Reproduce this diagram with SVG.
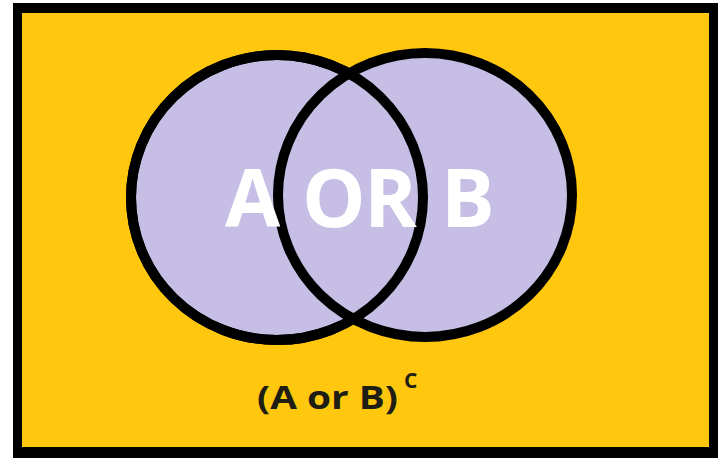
<svg xmlns="http://www.w3.org/2000/svg" width="718" height="458" viewBox="0 0 718 458">
<style>
.ring{fill:#C6BEE5;stroke:#000;stroke-width:10}
.edge{fill:none;stroke:#000;stroke-width:10}
.big{font-family:"Open Sans","Liberation Sans",sans-serif;font-weight:700;fill:#fff;font-size:80px}
.lbl{font-family:"Open Sans","Liberation Sans",sans-serif;font-weight:700;fill:#1E1E14}
</style>
<rect x="0" y="0" width="718" height="458" fill="#fff"/>
<rect x="13" y="3" width="705" height="455" fill="#000"/>
<rect x="22" y="13" width="687" height="434" fill="#FFC80E"/>
<g id="circleA"><ellipse class="ring" cx="277" cy="197.5" rx="146" ry="142.5"/></g>
<g id="circleB"><ellipse class="ring" cx="425" cy="195" rx="147" ry="142"/></g>
<g id="connectors"><ellipse class="edge" cx="277" cy="197.5" rx="146" ry="142.5"/></g>
<g id="title"><text class="big" x="225 280 302 364 420 441" y="227">A OR B</text></g>
<g id="label"><text class="lbl" x="257" y="409" font-size="33" textLength="141" lengthAdjust="spacingAndGlyphs">(A or B)</text><text class="lbl" x="404" y="388" font-size="21">C</text></g>
</svg>
